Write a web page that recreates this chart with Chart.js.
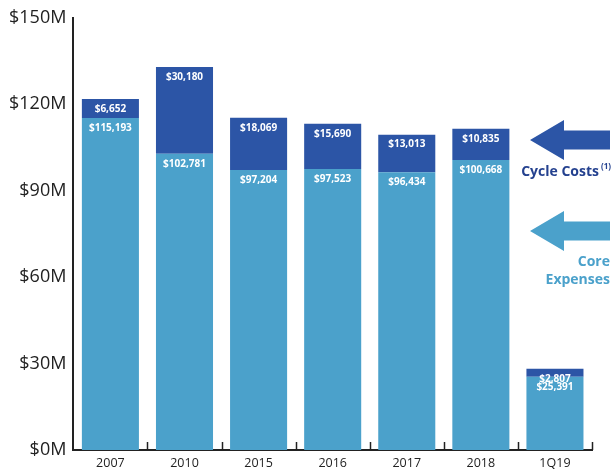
<!DOCTYPE html>
<html>
<head>
<meta charset="utf-8">
<script src="https://cdn.jsdelivr.net/npm/chart.js@4.4.1/dist/chart.umd.min.js"></script>
<style>
  html, body { margin: 0; padding: 0; background: #fff; }
  #wrap { width: 615px; height: 472px; }
</style>
</head>
<body>
<div id="wrap"><canvas id="chart"></canvas></div>
<script>
const categories = ['2007', '2010', '2015', '2016', '2017', '2018', '1Q19'];
const coreExpenses = [115193, 102781, 97204, 97523, 96434, 100668, 25391];
const cycleCosts = [6652, 30180, 18069, 15690, 13013, 10835, 2807];
const yTicks = [0, 30000, 60000, 90000, 120000, 150000];

const DARK = '#2c55a6';
const LIGHT = '#4ba1cb';
const FONT = '"Open Sans", sans-serif';

const money = v => '$' + v.toLocaleString('en-US');

// white value labels near the top of every segment
const barLabels = {
    id: 'barLabels',
    afterDatasetsDraw(chart) {
        const c = chart.ctx;
        c.save();
        c.fillStyle = '#fff';
        c.font = 'bold 10px ' + FONT;
        c.textAlign = 'center';
        c.textBaseline = 'middle';
        chart.data.datasets.forEach((ds, di) => {
            chart.getDatasetMeta(di).data.forEach((bar, i) => {
                c.fillText(money(ds.data[i]), bar.x, bar.y + 10);
            });
        });
        c.restore();
    }
};

// short upward ticks between categories on the x axis
const catTicks = {
    id: 'catTicks',
    afterDraw(chart) {
        const x = chart.scales.x;
        const c = chart.ctx;
        const half = (x.getPixelForValue(1) - x.getPixelForValue(0)) / 2;
        c.save();
        c.strokeStyle = '#222';
        c.lineWidth = 1.5;
        categories.forEach((_, i) => {
            const px = Math.round(x.getPixelForValue(i) + half) + 0.5;
            c.beginPath();
            c.moveTo(px, x.top);
            c.lineTo(px, x.top - 8);
            c.stroke();
        });
        c.restore();
    }
};

function arrow(c, tipX, tipY, headLen, headH, shaftH, endX, color) {
    c.fillStyle = color;
    c.beginPath();
    c.moveTo(tipX, tipY);
    c.lineTo(tipX + headLen, tipY - headH / 2);
    c.lineTo(tipX + headLen, tipY - shaftH / 2);
    c.lineTo(endX, tipY - shaftH / 2);
    c.lineTo(endX, tipY + shaftH / 2);
    c.lineTo(tipX + headLen, tipY + shaftH / 2);
    c.lineTo(tipX + headLen, tipY + headH / 2);
    c.closePath();
    c.fill();
}

// legend drawn as arrows with captions on the right
const arrowLegend = {
    id: 'arrowLegend',
    afterDraw(chart) {
        const c = chart.ctx;
        c.save();
        arrow(c, 530, 140, 34, 40, 19, 610, DARK);
        arrow(c, 530, 231, 34, 40, 19, 610, LIGHT);
        c.textAlign = 'right';
        c.textBaseline = 'middle';
        c.font = 'bold 14px ' + FONT;
        c.fillStyle = '#24418f';
        c.fillText('Cycle Costs', 599, 172);
        c.font = 'bold 8px ' + FONT;
        c.fillText('(1)', 611, 167);
        c.font = 'bold 14px ' + FONT;
        c.fillStyle = LIGHT;
        c.fillText('Core', 610, 262);
        c.fillText('Expenses', 610, 280);
        c.restore();
    }
};

new Chart(document.getElementById('chart'), {
    type: 'bar',
    data: {
        labels: categories,
        datasets: [
            { label: 'Core Expenses', data: coreExpenses, backgroundColor: LIGHT, barPercentage: 0.77, categoryPercentage: 1 },
            { label: 'Cycle Costs', data: cycleCosts, backgroundColor: DARK, barPercentage: 0.77, categoryPercentage: 1 }
        ]
    },
    options: {
        responsive: true,
        maintainAspectRatio: false,
        animation: false,
        layout: { padding: { top: 7, right: 23, left: 2, bottom: -5 } },
        plugins: {
            legend: { display: false },
            tooltip: { enabled: false }
        },
        scales: {
            x: {
                stacked: true,
                grid: { display: false, drawTicks: false },
                border: { color: '#222', width: 2 },
                ticks: { color: '#222', font: { family: FONT, size: 12.5 }, padding: 6 }
            },
            y: {
                stacked: true,
                min: 0,
                max: 150000,
                afterBuildTicks: axis => { axis.ticks = yTicks.map(v => ({ value: v })); },
                grid: { display: false, drawTicks: false },
                border: { color: '#222', width: 2 },
                ticks: {
                    color: '#222',
                    font: { family: FONT, size: 18 },
                    padding: 7,
                    callback: v => '$' + (v / 1000) + 'M'
                }
            }
        }
    },
    plugins: [barLabels, catTicks, arrowLegend]
});
</script>
</body>
</html>
